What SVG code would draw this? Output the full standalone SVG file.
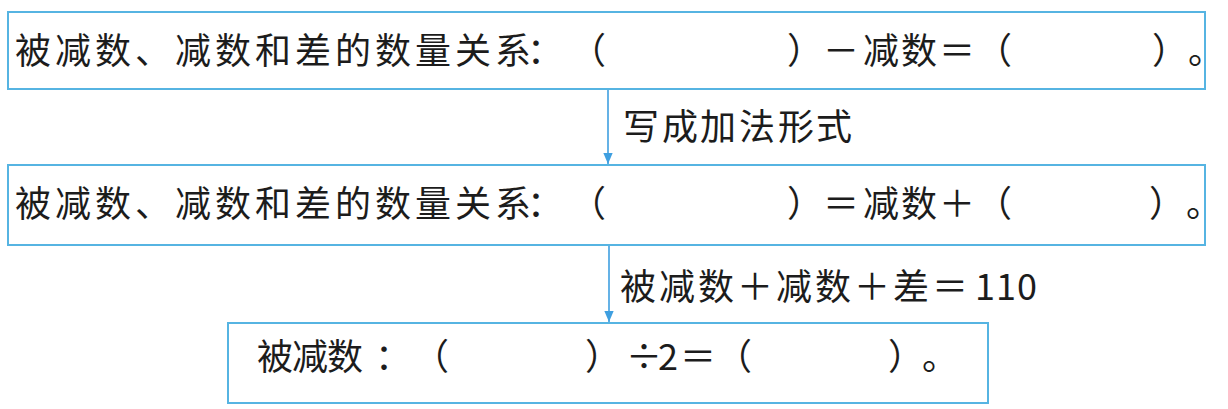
<svg xmlns="http://www.w3.org/2000/svg" width="1228" height="409" viewBox="0 0 1228 409">
  <style>
    .box { fill: #ffffff; stroke: #56b4e2; stroke-width: 2; }
    .txt { font-family: "Noto Sans CJK SC", "Noto Sans", sans-serif; font-size: 36px; fill: #1c1c1c; text-spacing-trim: space-all; font-kerning: none; }
    .conn { stroke: #3f9fe0; stroke-width: 1.6; fill: none; }
  </style>
  <defs>
    <marker id="head" markerWidth="11" markerHeight="13" refX="13" refY="5.5" orient="auto" markerUnits="userSpaceOnUse" viewBox="0 0 13 11">
      <path d="M0,0 L13,5.5 L0,11 Z" fill="#3f9fe0"/>
    </marker>
  </defs>
  <rect width="1228" height="409" fill="#ffffff"/>

  <g id="connectors">
    <line class="conn" x1="608" y1="89" x2="608" y2="164" marker-end="url(#head)"/>
    <line class="conn" x1="609" y1="245" x2="609" y2="322" marker-end="url(#head)"/>
    <text class="txt" x="623 662 700 739 778 816" y="140">写成加法形式</text>
    <text class="txt" x="620 659 698 737 776 815 854 893 932 975 996 1017" y="300">被减数＋减数＋差＝110</text>
  </g>

  <g id="node1">
    <rect class="box" x="8" y="12" width="1197" height="77"/>
    <text class="txt" x="15 55 95 135 175 215 255 295 335 375 415 455 495 527 570 787 823 863 901 939 976 1152 1188" y="64">被减数、减数和差的数量关系：（）－减数＝（）。</text>
  </g>

  <g id="node2">
    <rect class="box" x="8" y="165" width="1197" height="80"/>
    <text class="txt" x="15 55 95 135 175 215 255 295 335 375 415 455 495 527 570 787 823 863 901 939 976 1149 1186" y="217">被减数、减数和差的数量关系：（）＝减数＋（）。</text>
  </g>

  <g id="node3">
    <rect class="box" x="228" y="323" width="760" height="80"/>
    <text class="txt" x="257 292 327 375 413 585 626 658 680 716 888 922" y="370">被减数：（）÷2＝（）。</text>
  </g>
</svg>
